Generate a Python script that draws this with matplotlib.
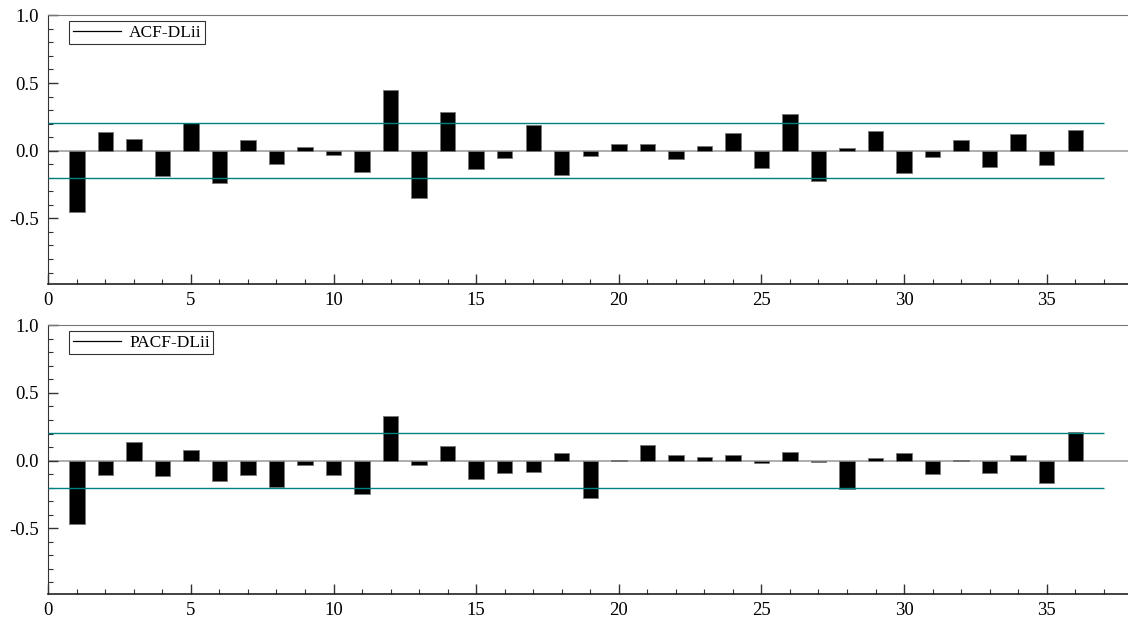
import matplotlib
matplotlib.use('Agg')
import matplotlib.pyplot as plt
from matplotlib.lines import Line2D
from matplotlib.ticker import MultipleLocator

lags = list(range(1, 37))
acf_vals = [-0.45, 0.14, 0.09, -0.19, 0.207, -0.24, 0.076, -0.096, 0.03, -0.032, -0.16, 0.446,
            -0.352, 0.283, -0.138, -0.057, 0.19, -0.182, -0.04, 0.047, 0.047, -0.064, 0.037, 0.133,
            -0.128, 0.271, -0.224, 0.022, 0.143, -0.167, -0.049, 0.079, -0.121, 0.126, -0.103, 0.15]
pacf_vals = [-0.469, -0.104, 0.141, -0.114, 0.077, -0.151, -0.104, -0.194, -0.032, -0.104, -0.246, 0.333,
             -0.035, 0.109, -0.139, -0.092, -0.082, 0.055, -0.275, 0.007, 0.117, 0.042, 0.03, 0.042,
             -0.017, 0.062, -0.01, -0.208, 0.02, 0.055, -0.099, 0.004, -0.092, 0.042, -0.164, 0.213]
conf = 0.205
labels = ['ACF-DLii', 'PACF-DLii']

plt.rcParams['font.family'] = ['Liberation Serif', 'DejaVu Serif']
plt.rcParams['font.size'] = 12.5

fig = plt.figure(figsize=(11.28, 6.23), dpi=100)
ax1 = fig.add_axes([0.0428, 0.5441, 0.9572, 0.4313])
ax2 = fig.add_axes([0.0428, 0.0466, 0.9572, 0.4313])

for ax, vals, label in zip([ax1, ax2], [acf_vals, pacf_vals], labels):
    ax.axhline(0, color='#999999', lw=1.1, zorder=1)
    ax.bar(lags, vals, width=0.54, color='black', edgecolor='#777777', linewidth=0.6, zorder=2)
    ax.hlines([conf, -conf], 0, 37, color='#008080', lw=1.0, zorder=3)
    ax.set_xlim(0, 37.85)
    ax.set_ylim(-0.985, 1.0)
    ax.xaxis.set_major_locator(MultipleLocator(5))
    ax.xaxis.set_minor_locator(MultipleLocator(1))
    ax.yaxis.set_minor_locator(MultipleLocator(0.1))
    ax.set_yticks([-0.5, 0.0, 0.5, 1.0])
    ax.set_yticklabels(['-0.5', '0.0', '0.5', '1.0'])
    ax.tick_params(axis='both', which='major', direction='in', length=7, width=1.0,
                   color='#333333', labelsize=13.5)
    ax.tick_params(axis='y', which='major', pad=7)
    ax.tick_params(axis='x', which='major', pad=6)
    ax.tick_params(which='minor', direction='in', length=3.5, width=0.8, color='#333333')
    ax.spines['right'].set_visible(False)
    ax.spines['top'].set_color('#777777')
    ax.spines['left'].set_color('#333333')
    ax.spines['bottom'].set_color('#222222')
    ax.spines['bottom'].set_linewidth(1.2)
    handle = Line2D([], [], color='black', lw=0.9)
    leg = ax.legend([handle], [label], loc='upper left', bbox_to_anchor=(0.0195, 0.978),
                    frameon=True, fancybox=False, handlelength=2.75, borderpad=0.2,
                    handletextpad=0.5, borderaxespad=0.0)
    leg.get_frame().set_edgecolor('black')
    leg.get_frame().set_linewidth(0.8)

fig.savefig('out.png', dpi=100)
